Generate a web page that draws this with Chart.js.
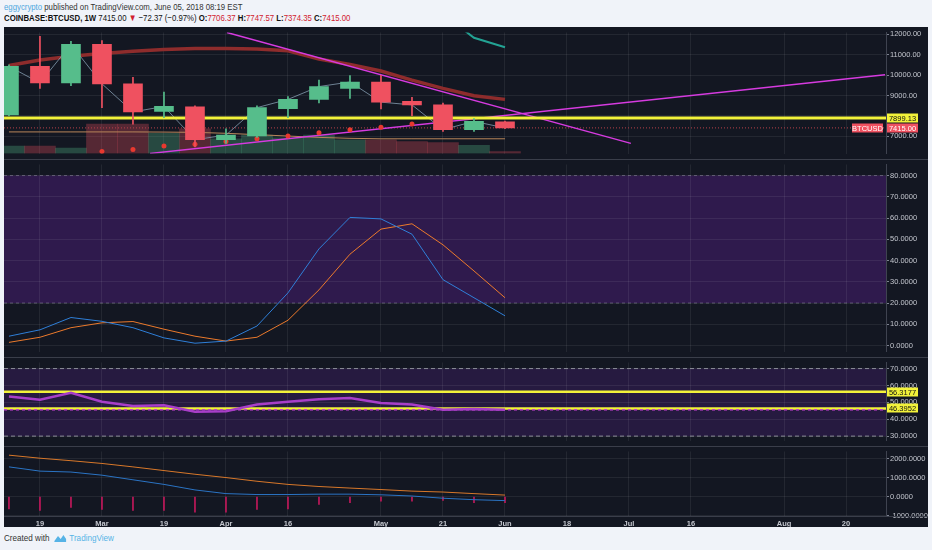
<!DOCTYPE html>
<html>
<head>
<meta charset="utf-8">
<script src="https://cdn.jsdelivr.net/npm/chart.js@4.4.0/dist/chart.umd.min.js"></script>
<style>
  body { margin:0; width:932px; height:550px; overflow:hidden; background:#f0f3f9; font-family:"Liberation Sans", Arial, sans-serif; }
  #head1 { position:absolute; left:4px; top:1px; font-size:9.5px; color:#333; white-space:nowrap; transform:scaleX(0.82); transform-origin:0 0; }
  #head1 .user { color:#4fa8de; }
  #head2 { position:absolute; left:4px; top:12px; font-size:9.5px; color:#111; white-space:nowrap; transform:scaleX(0.82); transform-origin:0 0; }
  #head2 b { font-weight:bold; }
  #head2 .dn { color:#d0202e; }
  #head2 .v { color:#d0202e; }
  #frame { position:absolute; left:4px; top:27px; width:924px; height:500px; background:#131722; }
  .pane { position:absolute; left:0; }
  .sep { position:absolute; left:0; width:924px; height:1px; background:#3a3e4a; }
  #foot { position:absolute; left:4px; top:533px; font-size:9px; color:#333; white-space:nowrap; transform:scaleX(0.9); transform-origin:0 0; }
  #foot .tv { color:#56b3e6; }
  #foot svg { vertical-align:-2px; margin:0 3px 0 4px; }
</style>
</head>
<body>
<div id="head1"><span class="user">eggycrypto</span> published on TradingView.com, June 05, 2018 08:19 EST</div>
<div id="head2"><b>COINBASE:BTCUSD, 1W</b> 7415.00 <span class="dn">&#9660;</span> &minus;72.37 (&minus;0.97%) <b>O:</b><span class="v">7706.37</span> <b>H:</b><span class="v">7747.57</span> <b>L:</b><span class="v">7374.35</span> <b>C:</b><span class="v">7415.00</span></div>

<div id="frame">
  <canvas id="pPrice" class="pane" style="top:0" width="924" height="132"></canvas>
  <canvas id="pStoch" class="pane" style="top:132px" width="924" height="198"></canvas>
  <canvas id="pRsi" class="pane" style="top:330px" width="924" height="89"></canvas>
  <canvas id="pMacd" class="pane" style="top:419px" width="924" height="81"></canvas>
  <div class="sep" style="top:132px"></div>
  <div class="sep" style="top:330px"></div>
  <div class="sep" style="top:419px"></div>
  <div class="sep" style="top:489px"></div>
</div>

<div id="foot">Created with<svg width="15" height="10" viewBox="0 0 15 10"><path d="M1 8 L5 3 L8 6 L11 2 L14 6 L14 9 L1 9 Z" fill="#56b3e6"/></svg><span class="tv">TradingView</span></div>

<script>
// weekly candles, Feb 12 2018 -> Jun 4 2018 (index 0..16)
const weekIdx = [0, 1, 2, 3, 4, 5, 6, 7, 8, 9, 10, 11, 12, 13, 14, 15, 16];
const opens  = [8049, 10428, 9620, 11506, 9575, 8228, 8453, 6836, 7016, 8363, 8812, 9351, 9665, 8722, 8543, 7330, 7706.37];
const highs  = [10500, 11900, 11654, 11700, 9890, 9171, 8500, 7375, 8500, 8950, 9755, 9980, 9990, 8915, 8630, 7870, 7747.57];
const lows   = [8000, 9350, 9486, 8400, 7600, 7914, 6480, 6657, 6950, 7920, 8633, 8857, 8350, 8017, 7240, 7240, 7374.35];
const closes = [10428, 9620, 11506, 9575, 8197, 8466, 6836, 7061, 8408, 8812, 9441, 9665, 8677, 8543, 7330, 7735, 7415.00];
const volumes = [80, 80, 60, 320, 320, 220, 270, 160, 200, 170, 200, 150, 150, 130, 120, 90, 20];

// overlays on the price pane
const maSlow  = [10473, 10743, 10922, 11057, 11169, 11259, 11304, 11304, 11282, 11192, 10788, 10518, 10204, 9755, 9351, 8992, 8812];
const maFlat  = [7218, 7218, 7218, 7218, 7218, 7210, 7196, 7150, 7083, 7016, 6949, 6904, 6881, 6881, 6881, 6881, 6881];
const tealIdx = [14, 15, 16];
const tealVals = [13000, 11830, 11371];
const dotIdx  = [3, 4, 5, 6, 7, 8, 9, 10, 11, 12, 13];
const dotVals = [6253, 6356, 6522, 6612, 6747, 6881, 7016, 7182, 7330, 7452, 7600];
const trendDownX = [7.03, 20.06];
const trendDownY = [12090, 6657];
const trendUpX = [4.55, 28.26];
const trendUpY = [6163, 10024];
const supportLevel = 7899.13;
const lastPrice = 7415.00;

// stochastic RSI
const stochK = [4.4, 7.4, 13.2, 11.4, 8.4, 3.6, 1.1, 2.1, 9.2, 24.8, 45.5, 60.3, 59.6, 52.4, 31.0, 22.5, 14.0];
const stochD = [1.5, 3.9, 8.4, 10.7, 11.3, 7.7, 4.4, 2.1, 3.9, 11.9, 26.2, 43.0, 54.8, 57.3, 47.4, 35.1, 22.5];

// RSI
const rsiVals = [53.4, 51.6, 55.6, 50.4, 47.8, 48.3, 44.4, 44.7, 48.7, 50.4, 51.8, 52.5, 49.6, 48.7, 45.6, 46.1, 45.6];
const rsiLevels = [56.3177, 46.3952];
const rsiBase = 45.6;

// MACD style pane
const macdSlow = [2196, 2035, 1903, 1757, 1576, 1381, 1186, 1010, 815, 649, 537, 454, 376, 293, 244, 161, 83];
const macdFast = [1576, 1352, 1303, 1137, 893, 649, 356, 161, 112, 112, 132, 132, 98, 34, -83, -161, -210];
const macdHist = [-649, -732, -571, -678, -732, -732, -815, -815, -678, -649, -405, -325, -244, -244, -195, -325, -325];

// axis ticks
const xTickIdx = [1, 3, 5, 7, 9, 12, 14, 16, 18, 20, 22, 25, 27];
const xTickLabels = ['19', 'Mar', '19', 'Apr', '16', 'May', '21', 'Jun', '18', 'Jul', '16', 'Aug', '20'];
const priceTicks = [7000, 8000, 9000, 10000, 11000, 12000];
const stochTicks = [0, 10, 20, 30, 40, 50, 60, 70, 80];
const rsiTicks = [30, 40, 50, 60, 70];
const macdTicks = [-1000, 0, 1000, 2000];

const XMIN = -0.16, XMAX = 28.29;
const GREEN = '#56bd8b', RED = '#ef5160';
const GRID = 'rgba(255,255,255,0.07)';
const TXT = '#c3c6ce';
const FONT = '"Liberation Sans", Arial, sans-serif';

const xy = (xs, ys) => xs.map((x, i) => ({ x: x, y: ys[i] }));
const hline = v => [{ x: XMIN, y: v }, { x: XMAX, y: v }];
const up = i => closes[i] >= opens[i];

function line(data, color, width, extra) {
  return Object.assign({ type: 'line', data: data, borderColor: color, borderWidth: width,
    pointRadius: 0, tension: 0, fill: false }, extra || {});
}

// filled bands behind the grid
const bandPlugin = {
  id: 'bands',
  beforeDraw(chart, args, opts) {
    const ctx = chart.ctx, a = chart.chartArea, y = chart.scales.y;
    (opts.list || []).forEach(b => {
      const y1 = y.getPixelForValue(b.to), y2 = y.getPixelForValue(b.from);
      ctx.save();
      ctx.fillStyle = b.color;
      ctx.fillRect(a.left, y1, a.right - a.left, y2 - y1);
      ctx.restore();
    });
  }
};

// coloured price tags on the right axis
const tagPlugin = {
  id: 'tags',
  afterDraw(chart, args, opts) {
    const ctx = chart.ctx, a = chart.chartArea, y = chart.scales.y;
    (opts.list || []).forEach(t => {
      const py = Math.round(y.getPixelForValue(t.value));
      const w = t.w || 31;
      const x0 = t.left ? a.right - w - 3 : a.right + 1;
      ctx.save();
      ctx.fillStyle = t.bg;
      ctx.fillRect(x0, py - 4.5, w, 9);
      ctx.fillStyle = t.fg;
      ctx.font = '7.5px ' + FONT;
      ctx.textBaseline = 'middle';
      ctx.textAlign = 'center';
      ctx.fillText(t.text, x0 + w / 2, py + 0.5);
      ctx.restore();
    });
  }
};

function makePane(id, cfg) {
  const scales = {
    x: {
      type: 'linear', min: XMIN, max: XMAX, offset: false,
      afterBuildTicks: s => { s.ticks = xTickIdx.map(v => ({ value: v })); },
      afterFit: s => { s.height = cfg.showX ? 11 : 0; },
      grid: { color: GRID, drawTicks: false, offset: false },
      border: { display: false },
      ticks: {
        display: !!cfg.showX, color: TXT, padding: 3, maxRotation: 0, autoSkip: false,
        font: { family: FONT, size: 7.5, weight: 'bold' },
        callback: v => xTickLabels[xTickIdx.indexOf(v)]
      }
    },
    y: {
      type: 'linear', position: 'right', min: cfg.ymin, max: cfg.ymax,
      afterBuildTicks: s => { s.ticks = cfg.yTicks.map(v => ({ value: v })); },
      afterFit: s => { s.width = 42; },
      grid: { color: GRID, tickLength: 3, tickColor: '#7d8290' },
      border: { display: true, color: '#3f4350' },
      ticks: {
        color: TXT, padding: 1, font: { family: FONT, size: 7.5 },
        callback: cfg.yLabel
      }
    }
  };
  Object.assign(scales, cfg.extraScales || {});
  return new Chart(document.getElementById(id), {
    type: 'bar',
    data: { datasets: cfg.datasets },
    options: {
      responsive: false, animation: false,
      layout: { padding: 0, autoPadding: false },
      plugins: {
        legend: { display: false }, tooltip: { enabled: false },
        bands: { list: cfg.bands || [] }, tags: { list: cfg.tags || [] }
      },
      scales: scales
    },
    plugins: [bandPlugin, tagPlugin]
  });
}

// ---- price pane ----
makePane('pPrice', {
  ymin: 6160, ymax: 12090, yTicks: priceTicks,
  yLabel: v => v === 8000 ? '' : v.toFixed(2),
  extraScales: { yv: { type: 'linear', display: false, min: 0, max: 1320 } },
  tags: [
    { value: supportLevel, text: supportLevel.toFixed(2), bg: '#f2f23a', fg: '#111' },
    { value: lastPrice, text: lastPrice.toFixed(2), bg: '#ef5160', fg: '#fff' },
    { value: lastPrice, text: 'BTCUSD', bg: '#ef5160', fg: '#fff', left: true, w: 31 }
  ],
  datasets: [
    { type: 'bar', yAxisID: 'yv', grouped: false, order: 20, barThickness: 31,
      data: xy(weekIdx, volumes),
      backgroundColor: weekIdx.map(i => up(i) ? 'rgba(86,189,139,0.3)' : 'rgba(239,81,96,0.3)') },
    line(xy(weekIdx, maFlat), '#b8865a', 1, { order: 15 }),
    line(xy(weekIdx, maSlow), '#8e2c2c', 3.5, { order: 14 }),
    line(xy(tealIdx, tealVals), '#23a394', 2, { order: 14 }),
    line(xy(weekIdx, closes), 'rgba(140,165,185,0.75)', 1, { order: 13 }),
    line(hline(lastPrice), '#b8404a', 1, { order: 12, borderDash: [1, 2] }),
    line(xy(trendDownX, trendDownY), '#d63be0', 1.5, { order: 11 }),
    line(xy(trendUpX, trendUpY), '#d63be0', 1.5, { order: 11 }),
    line(hline(supportLevel), '#f2f23a', 3, { order: 10 }),
    line(xy(dotIdx, dotVals), '#e8392f', 0, { order: 9, showLine: false, pointRadius: 2.5,
      pointBackgroundColor: '#e8392f', pointBorderWidth: 0 }),
    { type: 'bar', grouped: false, order: 3, barThickness: 1,
      data: weekIdx.map(i => ({ x: i, y: [lows[i], highs[i]] })),
      backgroundColor: weekIdx.map(i => up(i) ? GREEN : RED) },
    { type: 'bar', grouped: false, order: 2, barThickness: 19,
      data: weekIdx.map(i => ({ x: i, y: [opens[i], closes[i]] })),
      backgroundColor: weekIdx.map(i => up(i) ? GREEN : RED) }
  ]
});

// ---- stochastic RSI pane ----
makePane('pStoch', {
  ymin: -2.8, ymax: 85.2, yTicks: stochTicks,
  yLabel: v => v.toFixed(4),
  bands: [{ from: 20, to: 80, color: '#2f1a4d' }],
  datasets: [
    line(hline(80), 'rgba(200,200,215,0.35)', 1, { borderDash: [3, 3], order: 5 }),
    line(hline(20), 'rgba(200,200,215,0.35)', 1, { borderDash: [3, 3], order: 5 }),
    line(xy(weekIdx, stochD), '#ec7a2c', 1, { order: 2 }),
    line(xy(weekIdx, stochK), '#2f7fd8', 1, { order: 1 })
  ]
});

// ---- RSI pane ----
makePane('pRsi', {
  ymin: 27.4, ymax: 73.6, yTicks: rsiTicks,
  yLabel: v => v.toFixed(4),
  bands: [{ from: 30, to: 70, color: '#261a40' }],
  tags: rsiLevels.map(v => ({ value: v, text: v.toFixed(4), bg: '#f2f23a', fg: '#111' })),
  datasets: [
    line(hline(70), '#8c8f99', 1, { borderDash: [4, 3], order: 6 }),
    line(hline(30), '#8c8f99', 1, { borderDash: [4, 3], order: 6 }),
    line(hline(rsiLevels[0]), '#f2f23a', 2.5, { order: 4 }),
    line(hline(rsiLevels[1]), '#f2f23a', 2.5, { order: 4 }),
    line(hline(rsiBase), '#c040d0', 1.5, { borderDash: [3, 3], order: 3 }),
    line(xy(weekIdx, rsiVals), '#a83ec8', 2.5, { order: 1 })
  ]
});

// ---- MACD style pane ----
makePane('pMacd', {
  ymin: -1024, ymax: 2390, yTicks: macdTicks, showX: true,
  yLabel: v => v.toFixed(4),
  datasets: [
    { type: 'bar', grouped: false, order: 5, barThickness: 1,
      data: xy(weekIdx, macdHist), backgroundColor: '#c2185b' },
    line(xy(weekIdx, macdSlow), '#d8782a', 1, { order: 2 }),
    line(xy(weekIdx, macdFast), '#2b74c4', 1, { order: 1 })
  ]
});
</script>
</body>
</html>
